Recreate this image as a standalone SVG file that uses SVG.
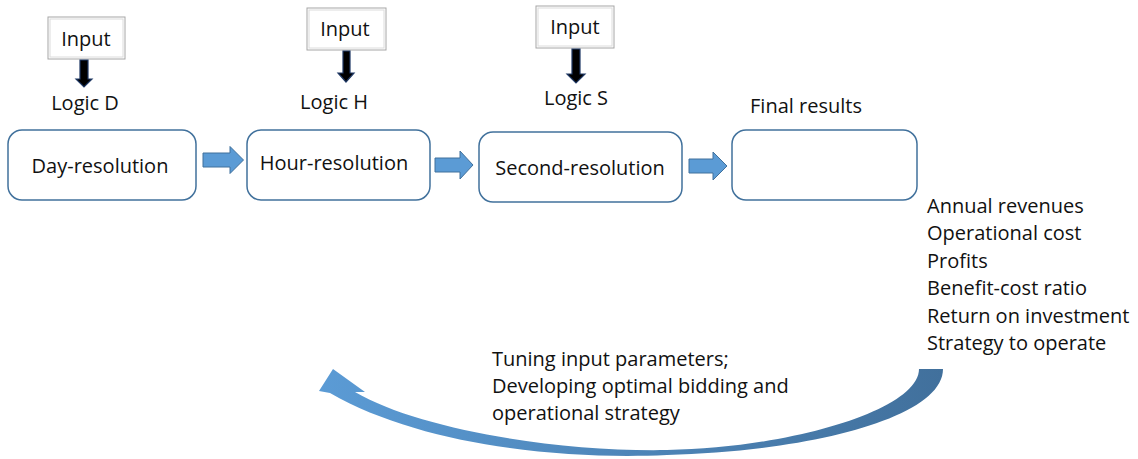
<svg xmlns="http://www.w3.org/2000/svg" width="1138" height="459" viewBox="0 0 1138 459">
<style>
  text { font-family: "Open Sans", "Liberation Sans", sans-serif; font-size: 20px; fill: #111; }
  .c { text-anchor: middle; }
  .box { fill: #fff; stroke: #41719c; stroke-width: 1.5; }
  .inp { fill: #fff; stroke: #a6a6a6; stroke-width: 1; }
  .inp2 { fill: none; stroke: #dcdcdc; stroke-width: 1; }
  .blk { fill: #000; stroke: #1f3864; stroke-width: 1.2; }
  .bar { fill: #5b9bd5; stroke: #41719c; stroke-width: 1; }
</style>
<defs>
  <linearGradient id="g" x1="319" y1="0" x2="943" y2="0" gradientUnits="userSpaceOnUse">
    <stop offset="0" stop-color="#5b9bd5"/>
    <stop offset="1" stop-color="#41709c"/>
  </linearGradient>
</defs>

<g id="input-d">
  <rect class="inp" x="48" y="17" width="77" height="42"/>
  <rect class="inp2" x="50" y="19" width="73" height="38"/>
  <text class="c" x="86" y="46">Input</text>
</g>
<g id="input-h">
  <rect class="inp" x="307" y="8" width="79" height="42"/>
  <rect class="inp2" x="309" y="10" width="75" height="38"/>
  <text class="c" x="345" y="36">Input</text>
</g>
<g id="input-s">
  <rect class="inp" x="536" y="6" width="78" height="42"/>
  <rect class="inp2" x="538" y="8" width="74" height="38"/>
  <text class="c" x="575" y="34">Input</text>
</g>

<g id="logic-d"><text class="c" x="85" y="110">Logic D</text></g>
<g id="logic-h"><text class="c" x="334" y="109">Logic H</text></g>
<g id="logic-s"><text class="c" x="576" y="105">Logic S</text></g>

<g id="day">
  <rect class="box" x="8" y="130" width="188" height="70" rx="14"/>
  <text class="c" x="100" y="173">Day-resolution</text>
</g>
<g id="hour">
  <rect class="box" x="247" y="130" width="183" height="70" rx="14"/>
  <text class="c" x="334" y="170">Hour-resolution</text>
</g>
<g id="second">
  <rect class="box" x="479" y="132" width="203" height="70" rx="14"/>
  <text class="c" x="580" y="175">Second-resolution</text>
</g>
<g id="final">
  <text class="c" x="806" y="113">Final results</text>
  <rect class="box" x="732" y="130" width="185" height="70" rx="14"/>
</g>

<g id="results-list">
  <text x="927" y="213">Annual revenues</text>
  <text x="927" y="240">Operational cost</text>
  <text x="927" y="268">Profits</text>
  <text x="927" y="295">Benefit-cost ratio</text>
  <text x="927" y="323">Return on investment</text>
  <text x="927" y="350">Strategy to operate</text>
</g>

<g id="feedback-label">
  <text x="492" y="366">Tuning input parameters;</text>
  <text x="492" y="393">Developing optimal bidding and</text>
  <text x="492" y="420">operational strategy</text>
</g>

<g id="connectors">
  <path class="blk" d="M80,60 H88 V79 H92 L84,87 L76,79 H80 Z"/>
  <path class="blk" d="M343,51 H350 V73 H354 L346,82 L338,73 H343 Z"/>
  <path class="blk" d="M572,49 H580 V74 H585 L576,83 L567,74 H572 Z"/>
  <path class="bar" d="M203,153 H230 V146.5 L243.5,160 L230,173.5 V167 H203 Z"/>
  <path class="bar" d="M435,158 H460 V151 L473,165 L460,179 V172 H435 Z"/>
  <path class="bar" d="M689,159 H713 V152 L727,166 L713,180 V173 H689 Z"/>
  <path fill="url(#g)" d="M943,369 C943,420 800,452 667,455 C560,460 420,445 330,393 L319,391 L333,369 L365,392 L355,392 C420,430 560,452 667,450 C790,448 919,410 919,369 Z"/>
</g>
</svg>
